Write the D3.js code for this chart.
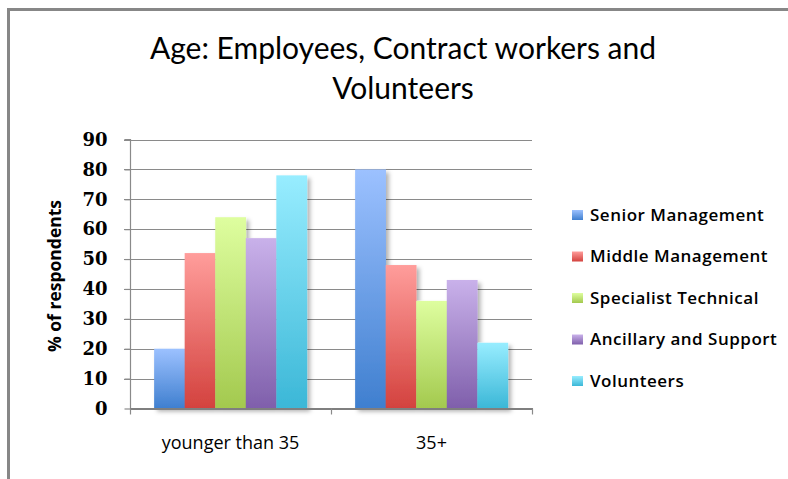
<!DOCTYPE html>
<html>
<head>
<meta charset="utf-8">
<script src="https://cdn.jsdelivr.net/npm/d3@7"></script>
<style>
  html, body { margin: 0; padding: 0; background: #fff; }
  svg { display: block; }
</style>
</head>
<body>
<svg id="chart" width="788" height="479"></svg>
<script>
// Age groups on the x axis
const categories = ["younger than 35", "35+"];
// Staff groups (one bar per group within each age band)
const seriesNames = ["Senior Management", "Middle Management", "Specialist Technical", "Ancillary and Support", "Volunteers"];
// % of respondents, per staff group, for [younger than 35, 35+]
const seniorManagement = [20, 80];
const middleManagement = [52, 48];
const specialistTechnical = [64, 36];
const ancillarySupport = [57, 43];
const volunteers = [78, 22];
const yTicks = [0, 10, 20, 30, 40, 50, 60, 70, 80, 90];

const seriesValues = [seniorManagement, middleManagement, specialistTechnical, ancillarySupport, volunteers];
// light (top) and dark (bottom) shade of each series gradient
const topColors = ["#9cc1ff", "#ff9d9b", "#defe9f", "#c9b1ea", "#98edff"];
const bottomColors = ["#3f7fcf", "#d3423e", "#a3c94e", "#7f5fab", "#3bb7d7"];

const svg = d3.select("#chart");
const defs = svg.append("defs");

seriesNames.forEach((s, i) => {
  const g = defs.append("linearGradient")
    .attr("id", "grad" + i)
    .attr("x1", 0).attr("y1", 0).attr("x2", 0).attr("y2", 1);
  g.append("stop").attr("offset", "0%").attr("stop-color", topColors[i]);
  g.append("stop").attr("offset", "100%").attr("stop-color", bottomColors[i]);
});

const shadow = defs.append("filter").attr("id", "barShadow")
  .attr("x", "-10%").attr("y", "-10%").attr("width", "130%").attr("height", "130%");
shadow.append("feDropShadow")
  .attr("dx", 3).attr("dy", 3).attr("stdDeviation", 2)
  .attr("flood-color", "#000").attr("flood-opacity", 0.3);

// outer frame (left and top edges visible)
svg.append("path")
  .attr("d", "M8.5,479 L8.5,9.5 L788,9.5")
  .attr("fill", "none").attr("stroke", "#878787").attr("stroke-width", 3);

// title
const title = svg.append("text")
  .attr("text-anchor", "middle")
  .attr("font-family", "Lato, 'Open Sans', sans-serif")
  .attr("font-size", 30)
  .attr("fill", "#000");
title.append("tspan").attr("x", 403).attr("y", 59).text("Age: Employees, Contract workers and");
title.append("tspan").attr("x", 403).attr("y", 99).text("Volunteers");

const plot = { left: 130, right: 532, top: 139.5, bottom: 408.5 };

const y = d3.scaleLinear().domain([0, 90]).range([plot.bottom, plot.top]);
const x0 = d3.scaleBand().domain(categories).range([plot.left, plot.right]).padding(0);
const x1 = d3.scaleBand().domain(seriesNames)
  .range([x0.bandwidth() * 0.12, x0.bandwidth() * 0.88]).padding(0);

// horizontal gridlines
const grid = svg.append("g");
yTicks.forEach(t => {
  const yy = Math.round(y(t)) + 0.5;
  if (t > 0) {
    grid.append("line")
      .attr("x1", plot.left - 6).attr("x2", plot.right)
      .attr("y1", yy).attr("y2", yy)
      .attr("stroke", "#8a8a8a").attr("stroke-width", 1.2);
  }
});

// y axis via d3.axisLeft
const yAxis = svg.append("g")
  .attr("transform", `translate(${plot.left + 0.5},0)`)
  .call(d3.axisLeft(y).tickValues(yTicks).tickSize(6).tickPadding(17));
yAxis.select(".domain").attr("stroke", "#8a8a8a").attr("stroke-width", 1.2)
  .attr("d", `M-6,${plot.top}H0V${plot.bottom}`);
yAxis.selectAll(".tick line").attr("stroke", "#8a8a8a").attr("stroke-width", 1.2);
yAxis.selectAll(".tick text")
  .attr("font-family", "'DejaVu Serif', serif")
  .attr("font-weight", "bold")
  .attr("font-size", 18)
  .attr("fill", "#000");

// y axis title
svg.append("text")
  .attr("transform", "translate(61,276) rotate(-90)")
  .attr("text-anchor", "middle")
  .attr("font-family", "'Open Sans', sans-serif")
  .attr("font-weight", "bold")
  .attr("font-size", 17.5)
  .attr("fill", "#000")
  .text("% of respondents");

// bars
const groups = svg.append("g").selectAll("g")
  .data(categories)
  .join("g")
  .attr("transform", d => `translate(${x0(d)},0)`)
  .attr("filter", "url(#barShadow)");

groups.selectAll("rect")
  .data((c, ci) => seriesNames.map((s, si) => ({ s, si, v: seriesValues[si][ci] })))
  .join("rect")
  .attr("x", d => x1(d.s))
  .attr("width", x1.bandwidth() + 0.3)
  .attr("y", d => y(d.v))
  .attr("height", d => y(0) - y(d.v))
  .attr("fill", d => `url(#grad${d.si})`);

// x axis
const xAxis = svg.append("g")
  .attr("transform", `translate(0,${plot.bottom})`);
xAxis.append("line")
  .attr("x1", plot.left).attr("x2", plot.right + 1)
  .attr("y1", 0.5).attr("y2", 0.5)
  .attr("stroke", "#7f7f7f").attr("stroke-width", 2);
const xTickPos = categories.map(c => x0(c)).concat([plot.right]);
xAxis.selectAll("line.tk")
  .data(xTickPos)
  .join("line").attr("class", "tk")
  .attr("x1", d => d + 0.5).attr("x2", d => d + 0.5)
  .attr("y1", 0).attr("y2", 6)
  .attr("stroke", "#8a8a8a").attr("stroke-width", 1.2);
xAxis.selectAll("text")
  .data(categories)
  .join("text")
  .attr("x", d => x0(d) + x0.bandwidth() / 2)
  .attr("y", 40)
  .attr("text-anchor", "middle")
  .attr("font-family", "'Open Sans', sans-serif")
  .attr("font-size", 18)
  .attr("fill", "#000")
  .text(d => d);

// legend
const legend = svg.append("g").attr("transform", "translate(572,215)");
const rowStep = 41.5;
const items = legend.selectAll("g")
  .data(seriesNames)
  .join("g")
  .attr("transform", (d, i) => `translate(0,${i * rowStep})`);
items.append("rect")
  .attr("x", 0).attr("y", -5)
  .attr("width", 11).attr("height", 10)
  .attr("fill", (d, i) => `url(#grad${i})`);
items.append("text")
  .attr("x", 18).attr("y", 0)
  .attr("dy", "0.35em")
  .attr("font-family", "'Open Sans', sans-serif")
  .attr("font-weight", 600)
  .attr("font-size", 17)
  .attr("letter-spacing", 0.5)
  .attr("fill", "#000")
  .text(d => d);
</script>
</body>
</html>
